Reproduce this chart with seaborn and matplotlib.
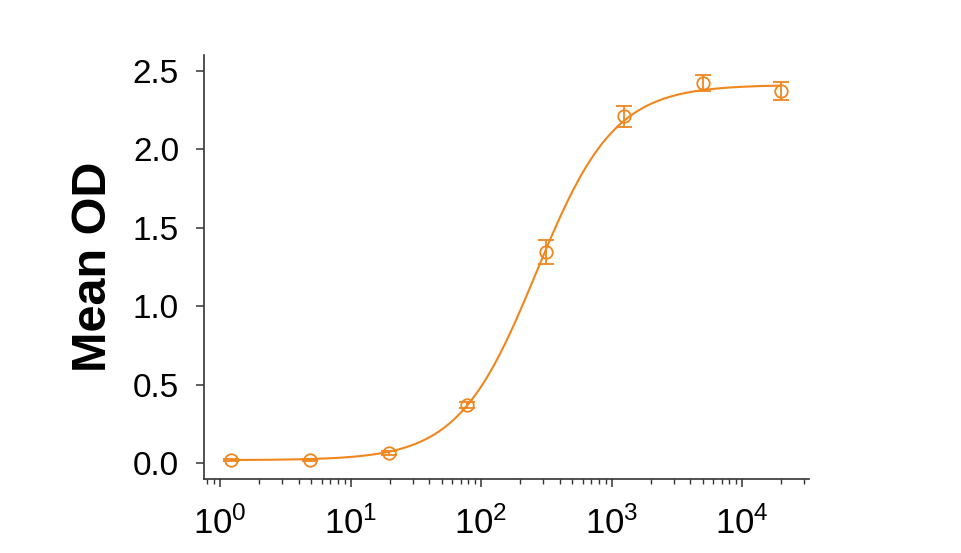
import numpy as np
import matplotlib
matplotlib.use("Agg")
import matplotlib.pyplot as plt
import matplotlib.ticker as mticker
import seaborn as sns
import pandas as pd

# measured points (4-fold dilution series)
conc = [1.2207, 4.8828, 19.531, 78.125, 312.5, 1250, 5000, 20000]
mean_od = [0.02, 0.022, 0.068, 0.37, 1.345, 2.21, 2.42, 2.37]
sem_od = [0.005, 0.006, 0.012, 0.02, 0.078, 0.068, 0.052, 0.057]

# 4PL fit parameters
fit_bottom = 0.02
fit_top = 2.41
fit_ec50 = 265.0
fit_hill = 1.45

orange = "#F0861E"

sns.set_style("ticks")
plt.rcParams["font.family"] = ["Liberation Sans", "DejaVu Sans"]
plt.rcParams["mathtext.fontset"] = "custom"
plt.rcParams["mathtext.rm"] = "Liberation Sans"
plt.rcParams["mathtext.it"] = "Liberation Sans:italic"
plt.rcParams["mathtext.bf"] = "Liberation Sans:bold"
plt.rcParams["text.color"] = "black"
plt.rcParams["axes.labelcolor"] = "black"
plt.rcParams["xtick.labelcolor"] = "black"
plt.rcParams["ytick.labelcolor"] = "black"

fig = plt.figure(figsize=(9.61, 5.53), dpi=100)
ax = fig.add_axes([0.2123, 0.1338, 0.6295, 0.7667])

xfit = np.logspace(np.log10(conc[0]), np.log10(conc[-1]), 300)
yfit = fit_bottom + (fit_top - fit_bottom) / (1 + (fit_ec50 / xfit) ** fit_hill)
curve = pd.DataFrame({"conc": xfit, "od": yfit})
sns.lineplot(data=curve, x="conc", y="od", color=orange, lw=1.5, ax=ax)

ax.errorbar(conc, mean_od, yerr=sem_od, fmt="o", ms=9, mfc="none",
            mec=orange, mew=1.3, ecolor=orange, elinewidth=1.3,
            capsize=6, capthick=1.3, zorder=3)

ax.set_xscale("log")
ax.set_xlim(0.753, 32600)
ax.set_ylim(-0.1, 2.6)
ax.set_yticks([0, 0.5, 1.0, 1.5, 2.0, 2.5])
ax.yaxis.set_major_formatter(mticker.FormatStrFormatter("%.1f"))
ax.xaxis.set_major_locator(mticker.LogLocator(base=10, numticks=10))
ax.xaxis.set_minor_locator(mticker.LogLocator(base=10, subs=np.arange(2, 10), numticks=10))
ax.xaxis.set_minor_formatter(mticker.NullFormatter())

for s in ["top", "right"]:
    ax.spines[s].set_visible(False)
for s in ["left", "bottom"]:
    ax.spines[s].set_color("#333333")
    ax.spines[s].set_linewidth(1.2)

ax.tick_params(axis="both", which="major", length=6, width=1.1, color="#333333")
ax.tick_params(axis="y", which="major", labelsize=24, pad=12)
ax.tick_params(axis="x", which="minor", length=3.5, width=1.0, color="#333333")
ax.tick_params(axis="x", which="major", labelsize=25, pad=14)

ax.set_xlabel("")
ax.set_ylabel("Mean OD", fontsize=35, fontweight="bold", labelpad=12)

fig.savefig("out.png", dpi=100)
